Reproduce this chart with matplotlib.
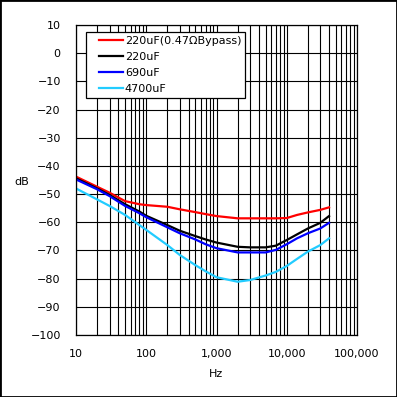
# Frequency response of the supply filter caps (dB vs Hz)
import matplotlib
matplotlib.use("Agg")
import matplotlib.pyplot as plt
from matplotlib.lines import Line2D
from matplotlib.legend_handler import HandlerLine2D
from matplotlib.patches import Rectangle
from matplotlib.ticker import FixedLocator, LogLocator, NullFormatter, FuncFormatter

# data
freq = [10, 20, 30, 50, 80, 100, 200, 300, 500, 700, 1000, 2000, 3000,
        5000, 7000, 10000, 14000, 20000, 30000, 40000]

red_220_bypass = [-43.8, -47.4, -49.5, -52.5, -53.6, -53.9, -54.5, -55.4, -56.4, -57.1,
                  -57.8, -58.6, -58.6, -58.6, -58.6, -58.5, -57.4, -56.5, -55.6, -54.7]
black_220 = [-44.4, -48.0, -50.3, -53.6, -56.2, -57.7, -61.0, -63.0, -64.9, -66.1,
             -67.2, -68.7, -68.9, -68.9, -68.3, -66.3, -64.3, -62.2, -60.2, -57.8]
blue_690 = [-44.8, -48.3, -50.7, -54.2, -56.8, -58.2, -61.8, -63.9, -66.1, -67.8,
            -69.2, -70.7, -70.7, -70.7, -69.8, -67.8, -65.7, -63.9, -62.2, -60.2]
cyan_4700 = [-48.0, -51.9, -54.2, -57.4, -61.0, -62.7, -68.1, -71.6, -75.2, -77.4,
             -79.5, -81.1, -80.5, -78.9, -77.6, -75.5, -73.0, -70.4, -68.1, -65.7]

labels = ["220uF(0.47\u03a9Bypass)", "220uF", "690uF", "4700uF"]
colors = ["#ff0000", "#000000", "#0000ff", "#22ccff"]
series = [red_220_bypass, black_220, blue_690, cyan_4700]

y_ticks = list(range(-100, 11, 10))
x_ticks = [10, 100, 1000, 10000, 100000]

plt.rcParams['font.family'] = ['DejaVu Sans']
plt.rcParams['font.size'] = 8

fig = plt.figure(figsize=(3.97, 3.97), dpi=100)
ax = fig.add_axes([76 / 397, 1 - 335 / 397, 281 / 397, 310 / 397])

for vals, lab, col in zip(series, labels, colors):
    ax.plot(freq, vals, color=col, lw=1.6, label=lab)

ax.set_xscale('log')
ax.set_xlim(10, 100000)
ax.set_ylim(-100, 10)
ax.xaxis.set_major_locator(FixedLocator(x_ticks))
ax.xaxis.set_minor_locator(LogLocator(base=10, subs=range(2, 10)))
ax.xaxis.set_minor_formatter(NullFormatter())
ax.xaxis.set_major_formatter(FuncFormatter(lambda v, p: f"{v:,.0f}"))
ax.yaxis.set_major_locator(FixedLocator(y_ticks))

ax.grid(True, which='both', axis='x', color='black', lw=0.8)
ax.grid(True, which='major', axis='y', color='black', lw=0.8)
ax.tick_params(which='both', length=0)
ax.tick_params(axis='y', pad=11)
ax.tick_params(axis='x', pad=10)
for s in ax.spines.values():
    s.set_linewidth(0.9)

ax.set_xlabel('Hz', va='center')
ax.set_ylabel('dB', rotation=0, ha='center', va='center')
ax.xaxis.set_label_coords(0.5, -0.126)
ax.yaxis.set_label_coords(-0.192, 0.494)

ax.legend(loc='upper left', bbox_to_anchor=(10 / 281, 1 - 7 / 310), borderaxespad=0,
          fancybox=False, framealpha=1, edgecolor='black', borderpad=0.35,
          handlelength=2.95, handletextpad=0.2, labelspacing=0.55, fontsize=8,
          handler_map={Line2D: HandlerLine2D(xpad=0.78)})
ax.get_legend().get_frame().set_linewidth(0.9)

fig.patches.append(Rectangle((0, 0), 1, 1, transform=fig.transFigure, fill=False,
                             ec='black', lw=2))

fig.savefig('out.png', dpi=100)
